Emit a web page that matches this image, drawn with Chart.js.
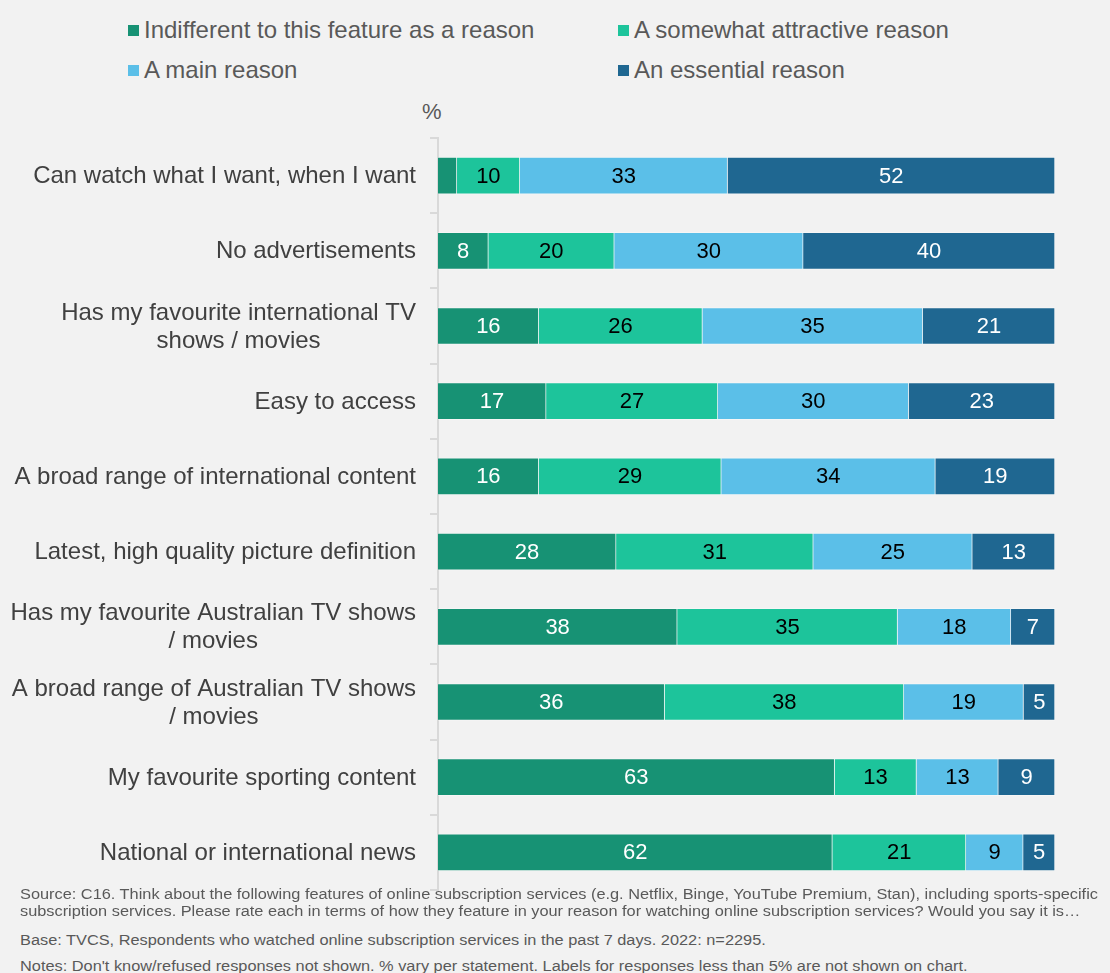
<!DOCTYPE html>
<html lang="en">
<head>
  <meta charset="UTF-8">
  <title>Reasons for watching online subscription services</title>
  <style>
    body {
      margin: 0;
      padding: 0;
      background-color: #f2f2f2;
      font-family: "Liberation Sans", Arial, sans-serif;
      width: 1110px;
      height: 973px;
      overflow: hidden;
      position: relative;
    }
    .legend-item {
      position: absolute;
      font-size: 24px;
      color: #595959;
      white-space: nowrap;
      line-height: 26px;
    }
    .legend-item i {
      display: inline-block;
      width: 11px;
      height: 11px;
      margin-right: 5px;
      vertical-align: 2px;
    }
    .pct {
      position: absolute;
      left: 422px;
      top: 99px;
      font-size: 22px;
      color: #595959;
    }
    .chart-box {
      position: absolute;
      left: 0;
      top: 0;
      width: 1110px;
      height: 892px;
    }
    .note {
      position: absolute;
      left: 20px;
      font-size: 14px;
      color: #595959;
      white-space: nowrap;
      line-height: 17px;
      transform: scaleX(1.167);
      transform-origin: left top;
    }
  </style>
</head>
<body>
  <div id="legend"></div>
  <div class="pct">%</div>

  <div class="chart-box">
    <canvas id="reasonChart" width="1110" height="892"></canvas>
  </div>

  <div class="note" style="top:886px">Source: C16. Think about the following features of online subscription services (e.g. Netflix, Binge, YouTube Premium, Stan), including sports-specific<br>subscription services. Please rate each in terms of how they feature in your reason for watching online subscription services? Would you say it is…</div>
  <div class="note" style="top:932px">Base: TVCS, Respondents who watched online subscription services in the past 7 days. 2022: n=2295.</div>
  <div class="note" style="top:958px">Notes: Don't know/refused responses not shown. % vary per statement. Labels for responses less than 5% are not shown on chart.</div>

  <script src="https://cdn.jsdelivr.net/npm/chart.js"></script>
  <script>
    // statements, top to bottom
    const statements = [
      ['Can watch what I want, when I want'],
      ['No advertisements'],
      ['Has my favourite international TV', 'shows / movies'],
      ['Easy to access'],
      ['A broad range of international content'],
      ['Latest, high quality picture definition'],
      ['Has my favourite Australian TV shows', '/ movies'],
      ['A broad range of Australian TV shows', '/ movies'],
      ['My favourite sporting content'],
      ['National or international news']
    ];

    const seriesNames = [
      'Indifferent to this feature as a reason',
      'A somewhat attractive reason',
      'A main reason',
      'An essential reason'
    ];

    // % of respondents per statement
    const indifferent = [3, 8, 16, 17, 16, 28, 38, 36, 63, 62];
    const somewhat    = [10, 20, 26, 27, 29, 31, 35, 38, 13, 21];
    const mainReason  = [33, 30, 35, 30, 34, 25, 18, 19, 13, 9];
    const essential   = [52, 40, 21, 23, 19, 13, 7, 5, 9, 5];

    const seriesValues = [indifferent, somewhat, mainReason, essential];
    const seriesColors = ['#179274', '#1dc49b', '#5bbfe8', '#1f6791'];
    const labelColors  = ['#ffffff', '#000000', '#000000', '#ffffff'];

    // legend (two columns)
    const legendPos = [[128, 17], [618, 17], [128, 57], [618, 57]];
    const legendEl = document.getElementById('legend');
    seriesNames.forEach((name, i) => {
      const d = document.createElement('div');
      d.className = 'legend-item';
      d.style.left = legendPos[i][0] + 'px';
      d.style.top = legendPos[i][1] + 'px';
      d.innerHTML = '<i style="background:' + seriesColors[i] + '"></i>' + name;
      legendEl.appendChild(d);
    });

    // bars fill the full width (100% stacked), labels keep the raw numbers
    const rowTotals = statements.map((s, r) => seriesValues.reduce((a, vals) => a + vals[r], 0));

    const datasets = seriesNames.map((name, i) => ({
      label: name,
      data: seriesValues[i].map((v, r) => v / rowTotals[r] * 100),
      raw: seriesValues[i],
      backgroundColor: seriesColors[i],
      borderColor: 'rgba(255,255,255,0.35)',
      borderWidth: 1,
      barThickness: 37
    }));

    // draws the numbers inside the bars and the statement labels
    const labelPlugin = {
      id: 'labelPlugin',
      afterDatasetsDraw(chart) {
        const ctx = chart.ctx;
        ctx.save();
        ctx.font = '22px "Liberation Sans", Arial, sans-serif';
        ctx.textAlign = 'center';
        ctx.textBaseline = 'middle';
        chart.data.datasets.forEach((ds, i) => {
          chart.getDatasetMeta(i).data.forEach((bar, r) => {
            const v = ds.raw[r];
            if (v < 5) return;
            ctx.fillStyle = labelColors[i];
            ctx.fillText(String(v), (bar.x + bar.base) / 2, bar.y + 1);
          });
        });

        const yScale = chart.scales.y;
        ctx.font = '24px "Liberation Sans", Arial, sans-serif';
        ctx.fillStyle = '#404040';
        statements.forEach((lines, r) => {
          const y = yScale.getPixelForValue(r) + 1;
          if (lines.length === 1) {
            ctx.textAlign = 'right';
            ctx.fillText(lines[0], 416, y);
          } else {
            const w = ctx.measureText(lines[0]).width;
            const cx = 416 - w / 2;
            ctx.textAlign = 'center';
            ctx.fillText(lines[0], cx, y - 14);
            ctx.fillText(lines[1], cx, y + 14);
          }
        });
        ctx.restore();
      }
    };

    const ctx = document.getElementById('reasonChart').getContext('2d');
    new Chart(ctx, {
      type: 'bar',
      data: {
        labels: statements.map(s => s.join(' ')),
        datasets: datasets
      },
      options: {
        indexAxis: 'y',
        responsive: false,
        animation: false,
        layout: {
          padding: { top: 138, right: 55, bottom: 2, left: 0 }
        },
        plugins: {
          legend: { display: false },
          tooltip: { enabled: false }
        },
        scales: {
          x: {
            stacked: true,
            min: 0,
            max: 100,
            display: false
          },
          y: {
            stacked: true,
            afterFit(scale) { scale.width = 438; },
            ticks: { display: false },
            grid: {
              offset: true,
              drawOnChartArea: false,
              drawTicks: true,
              tickLength: 8,
              color: '#d9d9d9',
              lineWidth: 2
            },
            border: { color: '#d9d9d9', width: 2 }
          }
        }
      },
      plugins: [labelPlugin]
    });
  </script>
</body>
</html>
